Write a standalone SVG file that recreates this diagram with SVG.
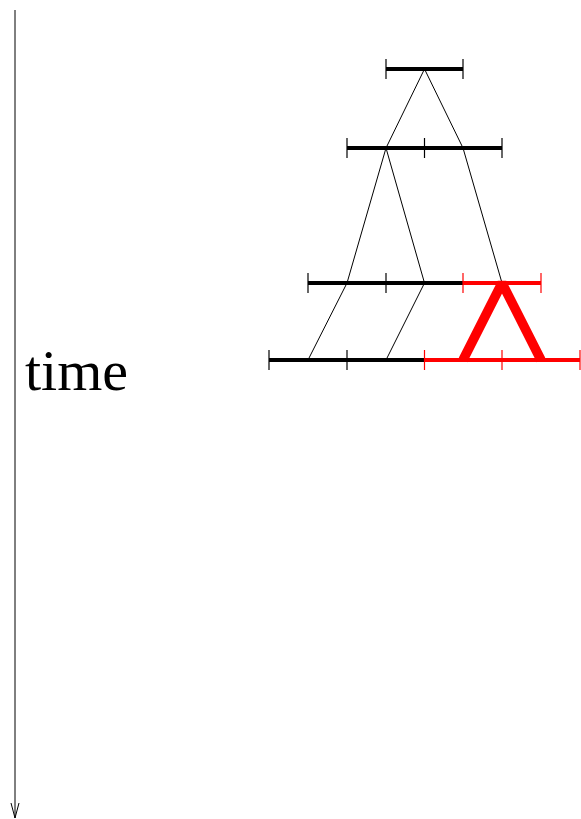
<svg xmlns="http://www.w3.org/2000/svg" width="581" height="819" viewBox="0 0 581 819">
<defs>
<style>
.bar{stroke:#000;stroke-width:4;fill:none}
.rbar{stroke:#f00;stroke-width:4;fill:none}
.tick{stroke:#000;stroke-width:1.2;fill:none}
.rtick{stroke:#f00;stroke-width:1.2;fill:none}
.thin{stroke:#000;stroke-width:1;fill:none}
.red{stroke:#f00;stroke-width:9.5;fill:none;stroke-linejoin:miter;stroke-miterlimit:2}
.lbl{font-family:"Liberation Serif","Times New Roman",serif;font-size:58px;fill:#000}
</style>
</defs>
<rect width="581" height="819" fill="#fff"/>
<g id="axis">
<line x1="15" y1="10" x2="15" y2="818" stroke="#000" stroke-width="1"/>
<polyline points="11,803 15,818 19,803" fill="none" stroke="#000" stroke-width="1"/>
<text class="lbl" x="25" y="390">time</text>
</g>
<g id="connectors">
<line class="thin" x1="424.5" y1="69" x2="386" y2="148"/>
<line class="thin" x1="424.5" y1="69" x2="463" y2="148"/>
<line class="thin" x1="386" y1="148" x2="347" y2="283"/>
<line class="thin" x1="386" y1="148" x2="424.5" y2="283"/>
<line class="thin" x1="463" y1="148" x2="502" y2="283"/>
<line class="thin" x1="347" y1="283" x2="308" y2="360"/>
<line class="thin" x1="424.5" y1="283" x2="386" y2="360"/>
</g>
<g id="row1">
<line class="bar" x1="386" y1="69" x2="463" y2="69"/>
<line class="tick" x1="386" y1="59" x2="386" y2="79"/>
<line class="tick" x1="463" y1="59" x2="463" y2="79"/>
</g>
<g id="row2">
<line class="bar" x1="347" y1="148" x2="502" y2="148"/>
<line class="tick" x1="347" y1="138" x2="347" y2="158"/>
<line class="tick" x1="424.5" y1="138" x2="424.5" y2="158"/>
<line class="tick" x1="502" y1="138" x2="502" y2="158"/>
</g>
<g id="row3">
<line class="bar" x1="308" y1="283" x2="463" y2="283"/>
<line class="rbar" x1="463" y1="283" x2="541" y2="283"/>
<line class="tick" x1="308" y1="273" x2="308" y2="293"/>
<line class="tick" x1="386" y1="273" x2="386" y2="293"/>
<line class="rtick" x1="463" y1="273" x2="463" y2="293"/>
<line class="rtick" x1="541" y1="273" x2="541" y2="293"/>
</g>
<g id="row4">
<line class="bar" x1="269" y1="360" x2="424.5" y2="360"/>
<line class="rbar" x1="424.5" y1="360" x2="580" y2="360"/>
<line class="tick" x1="269" y1="350" x2="269" y2="370"/>
<line class="tick" x1="347" y1="350" x2="347" y2="370"/>
<line class="rtick" x1="424.5" y1="350" x2="424.5" y2="370"/>
<line class="rtick" x1="502" y1="350" x2="502" y2="370"/>
<line class="rtick" x1="580" y1="350" x2="580" y2="370"/>
</g>
<g id="highlight">
<polyline class="red" points="463,360 502,283 541,360"/>
</g>
</svg>
